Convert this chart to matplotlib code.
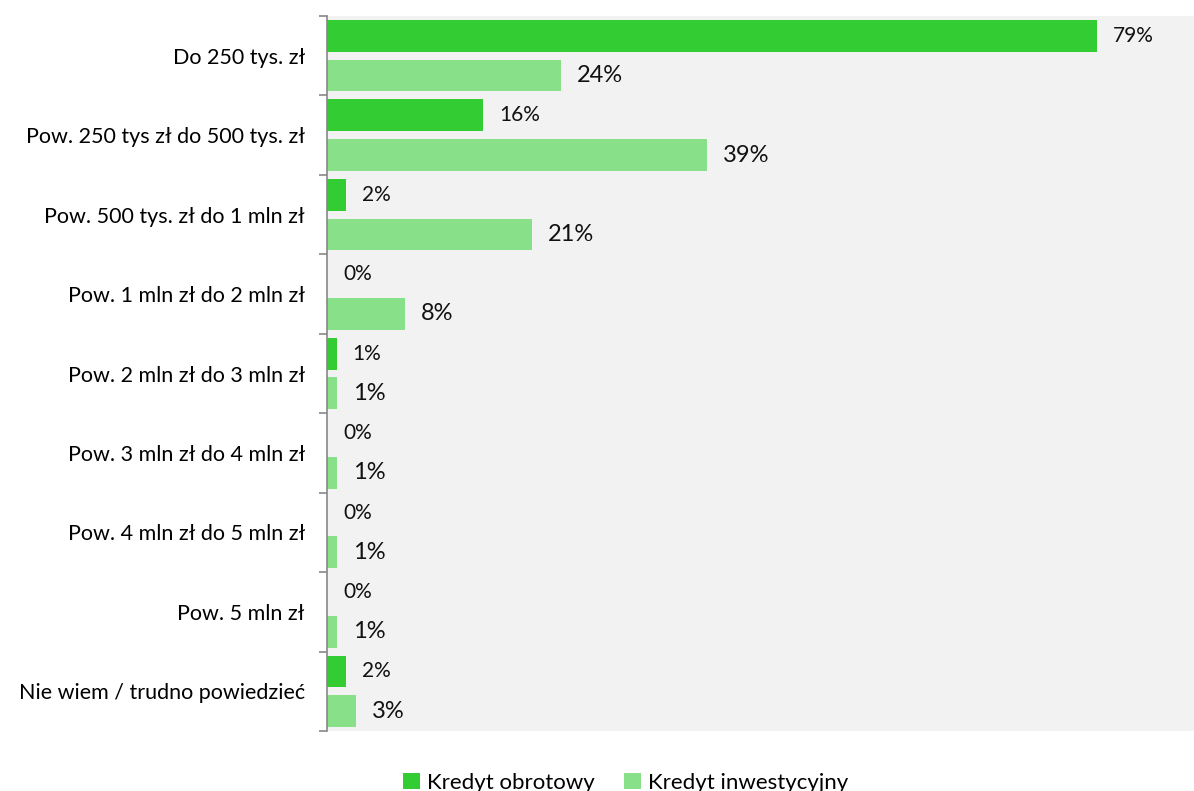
import numpy as np
import matplotlib.pyplot as plt

plt.rcParams['font.family'] = ['Lato', 'DejaVu Sans']

categories = ['Do 250 tys. zł', 'Pow. 250 tys zł do 500 tys. zł',
              'Pow. 500 tys. zł do 1 mln zł', 'Pow. 1 mln zł do 2 mln zł',
              'Pow. 2 mln zł do 3 mln zł', 'Pow. 3 mln zł do 4 mln zł',
              'Pow. 4 mln zł do 5 mln zł', 'Pow. 5 mln zł',
              'Nie wiem / trudno powiedzieć']
obrotowy = [79, 16, 2, 0, 1, 0, 0, 0, 2]
inwestycyjny = [24, 39, 21, 8, 1, 1, 1, 1, 3]
series_names = ['Kredyt obrotowy', 'Kredyt inwestycyjny']

dark = '#33CC33'
light = '#88E088'

fig = plt.figure(figsize=(11.94, 7.91), dpi=100)
ax = fig.add_axes([327 / 1194, 1 - 731 / 791, 1 - 327 / 1194, 715 / 791])
ax.set_facecolor('#F2F2F2')

y = np.arange(len(categories))
h = 0.40
off = 0.25
b1 = ax.barh(y - off, obrotowy, height=h, color=dark)
b2 = ax.barh(y + off, inwestycyjny, height=h, color=light)

# value labels just past the end of each bar
for bars, vals, fs in ((b1, obrotowy, 15), (b2, inwestycyjny, 17)):
    for bar, v in zip(bars, vals):
        ax.annotate('%d%%' % v, (bar.get_width(), bar.get_y() + bar.get_height() / 2),
                    xytext=(11.5, 0), textcoords='offset points',
                    ha='left', va='center', fontsize=fs, color='#111111')

ax.set_xlim(0, 89)
ax.set_ylim(len(categories) - 0.5, -0.5)
ax.set_xticks([])
ax.set_yticks(y)
ax.set_yticklabels(categories, fontsize=15.5)
ax.set_yticks(np.arange(len(categories) + 1) - 0.5, minor=True)
ax.tick_params(axis='y', which='major', length=0, pad=16)
ax.tick_params(axis='y', which='minor', length=6, width=1.2, color='#888888')
for s in ('top', 'right', 'bottom'):
    ax.spines[s].set_visible(False)
ax.spines['left'].set_color('#888888')
ax.spines['left'].set_linewidth(1.2)

fig.legend([b1, b2], series_names, loc='upper center',
           bbox_to_anchor=(0.524, 0.043), ncol=2, frameon=False,
           fontsize=16, handlelength=0.75, handleheight=0.75,
           handletextpad=0.3, columnspacing=1.35, borderpad=0.2)

fig.savefig('out.png', dpi=100)
